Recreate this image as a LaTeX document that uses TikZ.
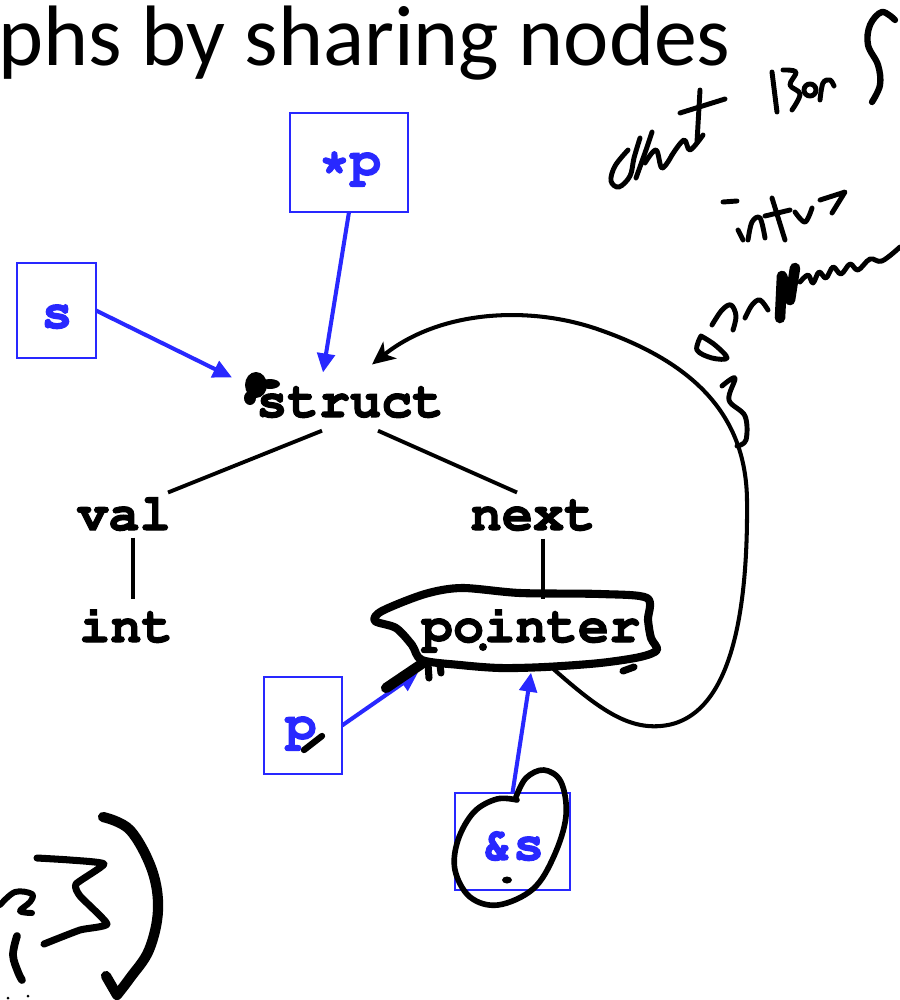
\documentclass[tikz,border=0pt]{standalone}
\usepackage[T1,TU]{fontenc}
\usepackage{fontspec}
\setmainfont{Carlito}
\usetikzlibrary{arrows.meta}
\definecolor{ptrblue}{RGB}{40,40,255}
\newcommand{\cfont}{\fontencoding{T1}\fontfamily{pcr}\fontseries{b}\fontshape{n}\fontsize{14.8}{16}\selectfont}
% heavier strokes for the code labels (fill and stroke the glyphs)
\newcommand{\heavy}[1]{\special{pdf:literal direct 2 Tr 0.3 w}#1\special{pdf:literal direct 0 Tr}}
\tikzset{
  code/.style={font=\cfont, inner sep=0pt, anchor=base, text height=0.318cm, text depth=0.1cm},
  ptrcode/.style={code, text=ptrblue},
  ptrbox/.style={draw=ptrblue, line width=0.6pt, inner sep=0pt, outer sep=0pt},
  ptrarrow/.style={draw=ptrblue, line width=1.15pt, -{Triangle[length=5.4pt,width=5pt]}},
  treeline/.style={draw=black, line width=1.1pt},
  backlink/.style={draw=black, line width=1.15pt, -{Stealth[length=6.5pt,width=6pt,inset=1.8pt]}},
  ink/.style={draw=black, line width=1.4pt, line cap=round, line join=round},
  thickink/.style={ink, line width=2.3pt},
  heavyink/.style={ink, line width=2.9pt}
}
\begin{document}
\begin{tikzpicture}[x=0.01cm,y=-0.01cm]
\useasboundingbox (0,0) rectangle (900,1000);

% heading
\node[anchor=base west, inner sep=0pt, font=\fontsize{24.4}{28}\selectfont] (title) at (-2,65) {phs by sharing nodes};

% tree of the structure type
\node[code] (struct)  at (350,417) {\heavy{struct}};
\node[code] (val)     at (124,530) {\heavy{val}};
\node[code] (next)    at (533,530) {\heavy{next}};
\node[code] (int)     at (126,642) {\heavy{int}};
\node[code] (pointer) at (531,642) {\heavy{pointer}};

\draw[treeline] ([shift={(-28,3)}]struct.south) -- ([shift={(44,-5)}]val.north);
\draw[treeline] ([shift={(28,3)}]struct.south) -- ([shift={(-16,-5)}]next.north);
\draw[treeline] ([shift={(9,-3)}]val.south) -- ([shift={(9,-10)}]val.south |- int.north);
\draw[treeline] ([shift={(10,-2)}]next.south) -- ([shift={(12,-10)}]pointer.north);

% pointer expressions
\node[ptrbox, minimum width=1.18cm, minimum height=0.99cm] (pstarbox) at (349,162.5) {};
\node[ptrcode] (pstar) at (350,176) {\heavy{*p}};
\node[ptrbox, minimum width=0.79cm, minimum height=0.95cm] (sbox) at (56.5,310.5) {};
\node[ptrcode] (s) at (57,328) {\heavy{s}};
\node[ptrbox, minimum width=0.78cm, minimum height=0.97cm] (pbox) at (303,725.5) {};
\node[ptrcode] (p) at (301,740) {\heavy{p}};
\node[ptrbox, minimum width=1.15cm, minimum height=0.97cm] (ampbox) at (512.5,841.5) {};
\node[ptrcode] (amps) at (513,860) {\heavy{\&s}};

\draw[ptrarrow] (pstarbox.south) -- ([shift={(-27,-12)}]struct.north);
\draw[ptrarrow] (sbox.east) -- ([shift={(-118,-7)}]struct.north);
\draw[ptrarrow] (pbox.east) -- ([shift={(-113,20)}]pointer.south);
\draw[ptrarrow] (ampbox.north) -- ([shift={(0,20)}]pointer.south);

% the next pointer leads back to the struct
\draw[backlink] ([shift={(22,16)}]pointer.south)
  .. controls (600,710) and (630,732) .. (668,725)
  .. controls (735,712) and (748,600) .. (747,500)
  .. controls (746,420) and (700,365) .. (600,330)
  .. controls (530,305) and (440,310) .. ([shift={(22,-20)}]struct.north);

% hand-drawn marks
% outline round "pointer"
\draw[thickink] plot[smooth cycle, tension=0.5] coordinates {
  (422,660) (460,665) (500,668) (545,667) (600,663) (640,657) (657,650)
  (651,638) (648,620) (647,598) (600,594) (520,593) (462,588)
  (425,594) (382,611) (375,621) (396,628) (412,645)};
\draw[heavyink] (423,663) -- (386,688);
\draw[ink, line width=2pt] (428,664) -- (429,678);
\draw[ink, line width=2pt] (440,665) -- (441,673);
\fill (483,647) circle (4);
\draw[ink, line width=2pt] (623,671) -- (634,667);

% loop round "&s"
\draw[ink, line width=1.6pt] plot[smooth, tension=0.6] coordinates {
  (517,800) (497,799) (474,812) (458,840) (455,870) (470,897) (498,905)
  (533,889) (554,856) (566,816) (561,782) (544,770) (526,778) (516,797)};
\fill (507,880) ellipse (5 and 3.5);

% blot on struct
\fill (256,385) ellipse (11 and 13);
\fill (270,384) ellipse (10 and 5);
\fill (250,398) ellipse (6 and 7);

% stroke over p
\draw[ink, line width=1.8pt] (304,750) -- (322,736);

% bottom left marks
\draw[heavyink] plot[smooth, tension=0.6] coordinates {
  (103,817) (130,830) (152,870) (158,910) (149,950) (130,978) (117,995)};
\draw[heavyink] (106,976) -- (117,995);
\draw[ink, line width=2pt] plot[smooth, tension=0.3] coordinates {
  (37,858) (70,860) (104,864) (76,884) (80,896) (107,924) (80,930) (44,944)};
\draw[ink, line width=1.7pt] plot[smooth, tension=0.6] coordinates {
  (0,905) (15,892) (32,894) (30,902) (20,911) (32,913)};
\draw[ink, line width=2.2pt] plot[smooth, tension=0.6] coordinates {
  (17,936) (13,955) (18,972) (22,980)};
\fill (8,998) circle (1.5);
\fill (28,996) circle (1.5);

% notes at the top right
\begin{scope}[ink]
  % first word
  \draw plot[smooth, tension=0.6] coordinates {
    (628,150) (615,166) (611,181) (619,187) (630,176) (634,158) (640,138)};
  \draw plot[smooth, tension=0.5] coordinates {
    (636,178) (646,150) (652,132)};
  \draw plot[smooth, tension=0.6] coordinates {
    (645,163) (656,150) (662,168) (672,155)};
  \draw plot[smooth, tension=0.6] coordinates {
    (672,155) (684,140) (690,150) (703,135)};
  \draw (680,113) -- (725,99);
  \draw (700,90) -- (697,142);
  % second word
  \draw (772,72) -- (777,112);
  \draw plot[smooth, tension=0.6] coordinates {
    (783,70) (796,72) (790,85) (800,94) (792,110)};
  \draw (810,90) circle (6);
  \draw plot[smooth, tension=0.6] coordinates {
    (820,100) (823,83) (830,80) (834,86)};
  \draw[line width=1.8pt] plot[smooth, tension=0.6] coordinates {
    (895,20) (882,12) (870,25) (868,45) (878,65) (880,85) (872,102)};
  % second line
  \draw (723,202) -- (737,201);
  \draw (738,230) -- (743,240);
  \draw plot[smooth, tension=0.6] coordinates {
    (748,240) (752,222) (760,218) (765,238)};
  \draw (772,198) -- (785,240);
  \draw (765,216) -- (790,210);
  \draw plot[smooth, tension=0.6] coordinates {
    (795,212) (805,222) (812,208)};
  \draw (820,200) -- (845,192) -- (832,213);
  % third line
  \draw plot[smooth, tension=0.6] coordinates {
    (701,336) (697,350) (712,358) (727,358) (715,345) (701,336)};
  \draw plot[smooth, tension=0.6] coordinates {
    (712,325) (722,310) (731,305) (736,316) (733,330)};
  \draw plot[smooth, tension=0.6] coordinates {
    (745,318) (752,305) (760,300) (768,310)};
  \draw[line width=3pt] (780,318) -- (782,276) -- (790,300) -- (795,268);
  \draw plot[smooth, tension=0.6] coordinates {
    (800,282) (808,275) (813,283) (819,272) (826,278) (833,267) (841,274)
    (850,264) (858,270) (870,259) (882,261) (900,247)};
  % last mark
  \draw plot[smooth, tension=0.6] coordinates {
    (722,386) (735,378) (729,400) (745,416) (746,440) (737,446)};
\end{scope}
\end{tikzpicture}
\end{document}
